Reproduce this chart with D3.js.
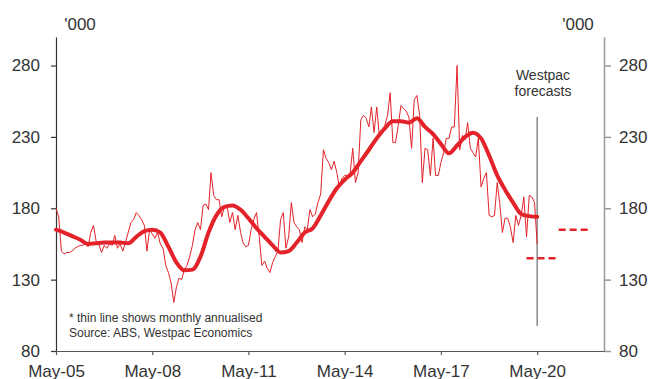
<!DOCTYPE html>
<html>
<head>
<meta charset="utf-8">
<script src="https://cdn.jsdelivr.net/npm/d3@7"></script>
<style>
  body { margin: 0; background: #fff; }
  svg { display: block; }
  text { font-family: "Liberation Sans", Arial, sans-serif; fill: #333; }
</style>
</head>
<body>
<svg id="chart" width="652" height="379"></svg>
<script>
// Dwelling approvals, '000 (monthly annualised, from May 2005)
const firstMonth = new Date(2005, 4, 1);
const monthlyAnnualised = [
  180,174,150,148,149,149,150,152,153,154,154,155,
  153,163,168,157,155,149,154,152,155,154,161,152,
  155,150,156,163,170,172,177,175,172,168,150,165,
  162,159,163,155,152,140,135,128,114,125,131,130,
  137,140,146,154,165,170,165,182,183,179,205,189,
  186,186,174,181,181,170,177,165,175,163,156,153,
  154,165,172,177,160,140,143,138,135,142,146,150,
  172,177,152,160,184,170,167,165,156,167,165,179,
  174,176,184,190,221,215,212,207,213,205,195,201,
  203,203,204,222,198,205,242,245,243,237,251,233,
  251,230,233,238,245,261,226,226,238,252,250,248,
  244,222,256,259,245,198,222,221,203,229,203,203,
  212,219,229,229,237,237,280,221,231,228,240,222,
  219,216,229,195,201,205,175,174,175,198,184,163,
  173,173,167,156,175,168,175,188,160,189,188,184,
  155
];

// Trend, one value per quarter (every third month from May 2005)
const trendStepMonths = 3;
const trend = [
  165,163,160.5,158,155,155.5,156,156,156,155.5,160,164,
  165,163,153,142,136.5,137,146,163,175,181,182,179,
  173,166,160,154,149,150,156,163,166,175,185,194,
  200,205,213,221,229,236,241,241,240,243,237,232,
  225,218.5,224,230,233,229,217,203,193,184,176,174.5,
  174
];

// Westpac forecasts, calendar years
const forecastYears = [2020, 2021];
const forecastValues = [145, 165];

const yTicks = [80, 130, 180, 230, 280];
const xTickLabels = ["May-05", "May-08", "May-11", "May-14", "May-17", "May-20"];

const parseTick = d3.timeParse("%b-%y");
const monthDate = i => d3.timeMonth.offset(firstMonth, i);

const svg = d3.select("#chart");
const red = "#e32229";

const x = d3.scaleTime()
  .domain([firstMonth, new Date(2022, 5, 1)])
  .range([56, 604]);
const y = d3.scaleLinear()
  .domain([80, 300])
  .range([351, 37]);

// Axes
const leftAxis = svg.append("g")
  .attr("transform", "translate(56,0)")
  .call(d3.axisLeft(y).tickValues(yTicks).tickSize(5).tickSizeOuter(0).tickPadding(11));
const rightAxis = svg.append("g")
  .attr("transform", "translate(604,0)")
  .call(d3.axisRight(y).tickValues(yTicks).tickSize(7).tickSizeOuter(0).tickPadding(8));
const bottomAxis = svg.append("g")
  .attr("transform", "translate(0,351)")
  .call(d3.axisBottom(x)
    .tickValues(xTickLabels.map(parseTick))
    .tickFormat(d3.timeFormat("%b-%y"))
    .tickSize(4).tickSizeOuter(0).tickPadding(10));

[leftAxis, rightAxis, bottomAxis].forEach(g => {
  g.selectAll("text").style("font-size", "17px").attr("fill", "#333");
});
leftAxis.selectAll("path, line").attr("stroke", "#333").attr("stroke-width", 1.2);
rightAxis.selectAll("path, line").attr("stroke", "#999").attr("stroke-width", 1.5);
bottomAxis.selectAll("path, line").attr("stroke", "#555").attr("stroke-width", 1.2);

// Units
svg.append("text").attr("x", 80).attr("y", 30).attr("text-anchor", "middle")
  .style("font-size", "17px").text("'000");
svg.append("text").attr("x", 578).attr("y", 30).attr("text-anchor", "middle")
  .style("font-size", "17px").text("'000");

// Forecast divider
svg.append("line")
  .attr("x1", x(parseTick("May-20"))).attr("x2", x(parseTick("May-20")))
  .attr("y1", y(244)).attr("y2", y(97.5))
  .attr("stroke", "#888").attr("stroke-width", 1.5);
const fc = svg.append("text").attr("text-anchor", "middle").style("font-size", "14px");
fc.append("tspan").attr("x", 543).attr("y", 80).text("Westpac");
fc.append("tspan").attr("x", 543).attr("y", 96).text("forecasts");

// Monthly annualised (thin)
const thinLine = d3.line()
  .x((d, i) => x(monthDate(i)))
  .y(d => y(d));
svg.append("path")
  .datum(monthlyAnnualised)
  .attr("fill", "none").attr("stroke", red).attr("stroke-width", 1)
  .attr("stroke-linejoin", "round")
  .attr("d", thinLine);

// Trend (thick)
const trendLine = d3.line()
  .x((d, i) => x(monthDate(i * trendStepMonths)))
  .y(d => y(d))
  .curve(d3.curveMonotoneX);
svg.append("path")
  .datum(trend)
  .attr("fill", "none").attr("stroke", red).attr("stroke-width", 4)
  .attr("stroke-linejoin", "round").attr("stroke-linecap", "round")
  .attr("d", trendLine);

// Forecast levels for each calendar year
svg.selectAll("line.forecast")
  .data(forecastYears)
  .join("line")
  .attr("class", "forecast")
  .attr("x1", d => x(new Date(d, 0, 1)))
  .attr("x2", d => x(new Date(d + 1, 0, 1)))
  .attr("y1", (d, i) => y(forecastValues[i]))
  .attr("y2", (d, i) => y(forecastValues[i]))
  .attr("stroke", red).attr("stroke-width", 2.5)
  .attr("stroke-dasharray", "7,4");

// Notes
const note = svg.append("text").style("font-size", "12px");
note.append("tspan").attr("x", 69).attr("y", 322).text("* thin line shows monthly annualised");
note.append("tspan").attr("x", 69).attr("y", 337).text("Source: ABS, Westpac Economics");
</script>
</body>
</html>
